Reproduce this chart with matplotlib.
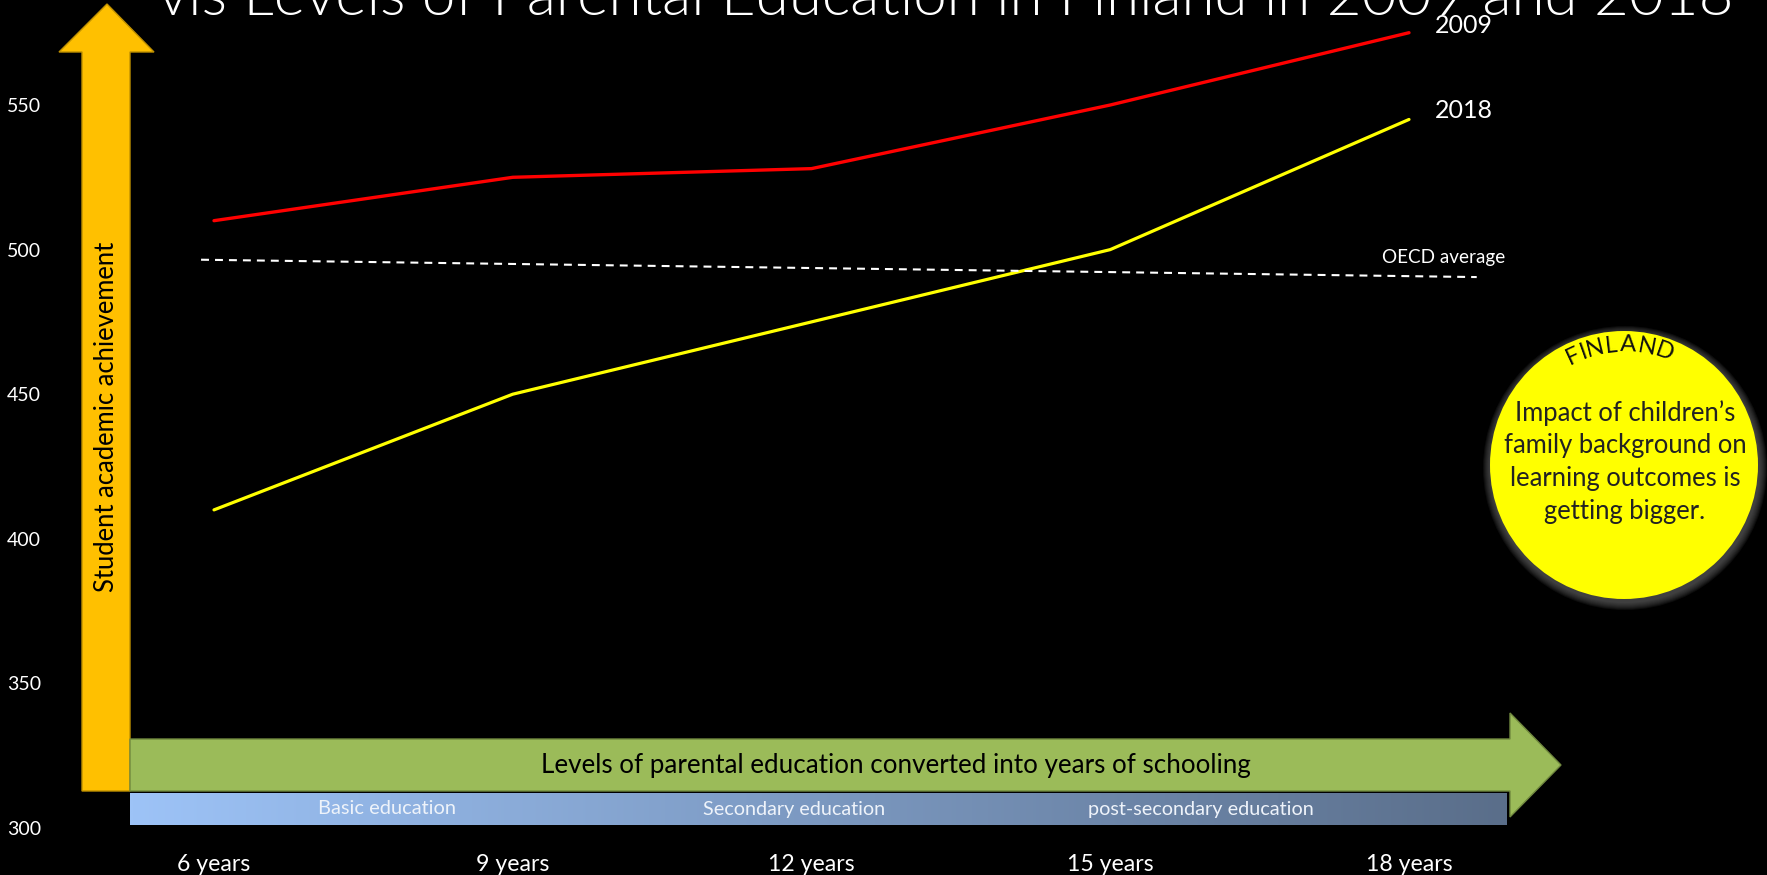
import numpy as np
import matplotlib
matplotlib.use('Agg')
import matplotlib.pyplot as plt
from matplotlib.patches import Polygon, Circle
from matplotlib.textpath import TextPath
from matplotlib.font_manager import FontProperties

# ---------------- data ----------------
years = [6, 9, 12, 15, 18]
year_labels = ['6 years', '9 years', '12 years', '15 years', '18 years']
score_2009 = [510, 525, 528, 550, 575]
score_2018 = [410, 450, 475, 500, 545]
oecd_x = [5.87, 18.68]
oecd_avg = [496.5, 490.5]
y_ticks = [300, 350, 400, 450, 500, 550]
edu_levels = ['Basic education', 'Secondary education', 'post-secondary education']
title = 'vis Levels of Parental Education in Finland in 2009 and 2018'
x_axis_text = 'Levels of parental education converted into years of schooling'
y_axis_text = 'Student academic achievement'
circle_title = 'FINLAND'
circle_lines = ["Impact of children\u2019s", 'family background on',
                'learning outcomes is', 'getting bigger.']

# ---------------- setup ----------------
W, H = 1767, 875
DPI = 100
FONT = 'Lato'
LIGHT = 300
fig = plt.figure(figsize=(W / DPI, H / DPI), dpi=DPI, facecolor='black')


def px2pt(px):
    return px * 72.0 / DPI


def text_width(text, size, weight='normal'):
    fp = FontProperties(family=FONT, weight=weight, size=size)
    tp = TextPath((0, 0), text, prop=fp)
    return tp.get_extents().width * DPI / 72.0  # px


def fit_size(text, width_px, weight='normal'):
    w = text_width(text, 100, weight)
    return 100.0 * width_px / w


# decoration layer in pixel coordinates (y downward)
deco = fig.add_axes([0, 0, 1, 1], zorder=0)
deco.axis('off')

# orange vertical arrow
deco.add_patch(Polygon([(82, 791), (82, 52), (59, 52), (107, 4), (154, 52), (130, 52), (130, 791)],
                       closed=True, facecolor='#FFC000', edgecolor='#BF9000', lw=1))
# green horizontal arrow
deco.add_patch(Polygon([(130, 739), (1510, 739), (1510, 713), (1561, 765), (1510, 817), (1510, 791), (130, 791)],
                       closed=True, facecolor='#9BBB59', edgecolor='#71893F', lw=1))
# blue gradient band
c0 = np.array([0x9D, 0xC3, 0xF7]) / 255.0
c1 = np.array([0x5A, 0x6E, 0x8A]) / 255.0
t = np.linspace(0, 1, 256)[None, :, None]
grad = c0 * (1 - t) + c1 * t
deco.imshow(grad, extent=(130, 1506, 825, 793), aspect='auto', interpolation='bilinear')

deco.set_xlim(0, W)
deco.set_ylim(H, 0)

# texts on bands
gsize = fit_size(x_axis_text, 705)
deco.text(896, 766, x_axis_text, ha='center', va='center', color='black',
          fontsize=gsize, family=FONT)
for lbl, cx, wpx in zip(edu_levels, [387, 794, 1201], [139, 186, 231]):
    deco.text(cx, 809, lbl, ha='center', va='center', color='#EEF3FA',
              fontsize=fit_size(lbl, wpx) * 0.97, family=FONT)
ysize = fit_size(y_axis_text, 349)
deco.text(106, 417, y_axis_text, ha='center', va='center', rotation=90, color='black',
          fontsize=ysize, family=FONT)

# title (cut off at top)
tsize = fit_size(title, 1572, LIGHT)
fig.text(158 / W, 1 - 15 / H, title, ha='left', va='baseline', color='white',
         fontsize=tsize, family=FONT, weight=LIGHT)

# yellow circle with glow
ccx, ccy, cr = 1624, 465, 134
for i in range(8):
    deco.add_patch(Circle((ccx + 1, ccy + 3), cr + 8 - i, facecolor=(0.4, 0.4, 0.4),
                          edgecolor='none', alpha=0.12))
deco.add_patch(Circle((ccx, ccy), cr, facecolor='#FFFF00', edgecolor='none'))

# curved FINLAND
fsize = 17
widths = [text_width(ch, fsize) for ch in circle_title]
arc_r = 120
arc_len = 106
spacing = (arc_len - sum(widths)) / (len(widths) - 1)
pos = -arc_len / 2.0
center_ang = np.deg2rad(-2)
for ch, w in zip(circle_title, widths):
    s = pos + w / 2.0
    th = center_ang + s / arc_r
    x = ccx + arc_r * np.sin(th)
    y = ccy - arc_r * np.cos(th)
    deco.text(x, y, ch, ha='center', va='center', rotation=-np.rad2deg(th),
              rotation_mode='anchor', fontsize=fsize, family=FONT,
              color='#111111')
    pos += w + spacing

csize = fit_size(circle_lines[1], 240)
for line, base in zip(circle_lines, [421, 453, 486, 519]):
    deco.text(1625, base, line, ha='center', va='baseline', color='#222222',
              fontsize=csize, family=FONT)

# ---------------- data axes ----------------
ax = fig.add_axes([0, 0, 1, 1], zorder=1)
ax.patch.set_alpha(0)
px_year = (1409 - 214) / 12.0
px_unit = (828 - 105) / 250.0
ax.set_xlim(6 - 214 / px_year, 18 + (W - 1409) / px_year)
ax.set_ylim(300 - (H - 828) / px_unit, 550 + 105 / px_unit)

ax.plot(years, score_2009, color='#FF0000', lw=2.4, solid_capstyle='round')
ax.plot(years, score_2018, color='#FFFF00', lw=2.3, solid_capstyle='round')
ax.plot(oecd_x, oecd_avg, color='white', lw=1.5, dashes=(3.8, 2.9))

for s in ax.spines.values():
    s.set_visible(False)
ax.set_xticks(years, year_labels)
ax.set_yticks(y_ticks, [str(v) for v in y_ticks])
ax.tick_params(axis='both', length=0, colors='white')
ax.tick_params(axis='y', pad=-px2pt(7), labelsize=14)
ax.tick_params(axis='x', pad=-px2pt(21), labelsize=fit_size('6 years', 71))
for lab in ax.get_yticklabels():
    lab.set_horizontalalignment('left')
    lab.set_family(FONT)
for lab in ax.get_xticklabels():
    lab.set_family(FONT)

ax.annotate('2009', xy=(years[-1], score_2009[-1]), xytext=(px2pt(26), px2pt(7)),
            textcoords='offset points', ha='left', va='center', color='white',
            fontsize=18, family=FONT)
ax.annotate('2018', xy=(years[-1], score_2018[-1]), xytext=(px2pt(26), px2pt(8.5)),
            textcoords='offset points', ha='left', va='center', color='white',
            fontsize=18, family=FONT)
ax.annotate('OECD average', xy=(oecd_x[-1], oecd_avg[-1]), xytext=(px2pt(-95), px2pt(20)),
            textcoords='offset points', ha='left', va='center', color='white',
            fontsize=fit_size('OECD average', 121), family=FONT)

fig.savefig('out.png', dpi=DPI, facecolor='black')
